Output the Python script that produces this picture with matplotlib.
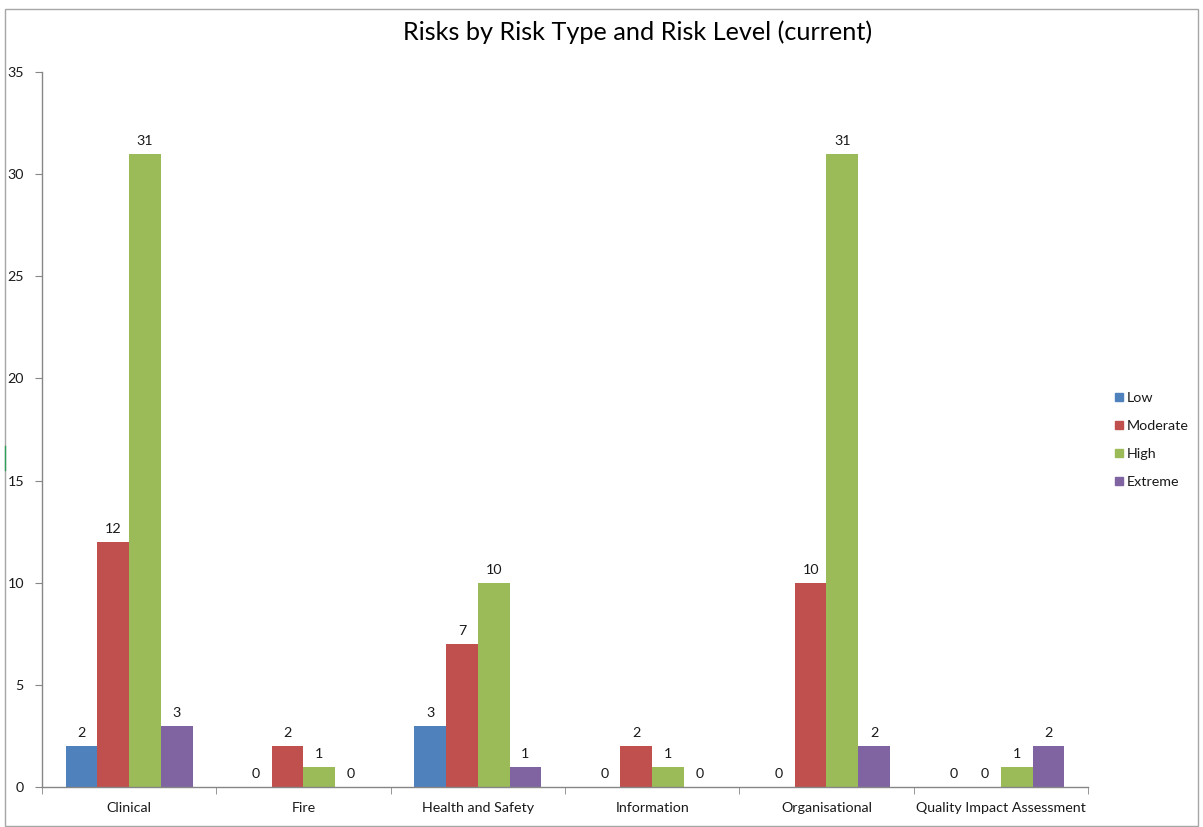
import matplotlib
matplotlib.use("Agg")
import matplotlib.pyplot as plt
import numpy as np
from matplotlib.lines import Line2D
from matplotlib.patches import Rectangle

categories = ["Clinical", "Fire", "Health and Safety", "Information",
              "Organisational", "Quality Impact Assessment"]
series_names = ["Low", "Moderate", "High", "Extreme"]
low = [2, 0, 3, 0, 0, 0]
moderate = [12, 2, 7, 2, 10, 0]
high = [31, 1, 10, 1, 31, 1]
extreme = [3, 0, 1, 0, 2, 2]
colors = ["#4F81BD", "#C0504D", "#9BBB59", "#8064A2"]
y_ticks = [0, 5, 10, 15, 20, 25, 30, 35]
title = "Risks by Risk Type and Risk Level (current)"

plt.rcParams['font.family'] = ['Lato', 'DejaVu Sans']

W, H = 1203, 827
fig = plt.figure(figsize=(W / 100, H / 100), dpi=100)
ax = fig.add_axes([42 / W, 1 - 787 / H, (1088 - 42) / W, (787 - 72) / H])

axis_col = "#868686"
text_col = "#1a1a1a"
fs = 10.3

x = np.arange(len(categories))
n = len(series_names)
bar_w = 1 / (n + 1.5)
for i, (name, vals) in enumerate(zip(series_names, [low, moderate, high, extreme])):
    offs = (i - (n - 1) / 2) * bar_w
    bars = ax.bar(x + offs, vals, width=bar_w, color=colors[i], label=name,
                  linewidth=0)
    for b, v in zip(bars, vals):
        ax.annotate(str(v), (b.get_x() + b.get_width() / 2, b.get_height()),
                    xytext=(0, 5), textcoords="offset points",
                    ha="center", va="bottom", fontsize=fs, color=text_col)

ax.set_xlim(-0.5, len(categories) - 0.5)
ax.set_ylim(0, 35)
ax.set_yticks(y_ticks)
ax.set_xticks(x)
ax.set_xticklabels(categories)
ax.set_xticks(np.arange(-0.5, len(categories), 1.0), minor=True)
ax.tick_params(axis="x", which="major", length=0, pad=11, labelsize=fs,
               labelcolor=text_col)
ax.tick_params(axis="x", which="minor", length=5, color=axis_col, direction="out")
ax.tick_params(axis="y", length=5, color=axis_col, direction="out", pad=8,
               labelsize=fs, labelcolor=text_col)
for s in ["top", "right"]:
    ax.spines[s].set_visible(False)
for s in ["left", "bottom"]:
    ax.spines[s].set_color(axis_col)
    ax.spines[s].set_linewidth(1)

fig.text(638 / W, 1 - 32 / H, title, ha="center", va="center", fontsize=18.2,
         color="#000000")

handles = [Rectangle((0, 0), 1, 1, color=c) for c in colors]
leg = fig.legend(handles, series_names, loc="center left",
                 bbox_to_anchor=(1108 / W, 1 - 440 / H), frameon=False,
                 fontsize=fs, handlelength=0.55, handleheight=0.55,
                 handletextpad=0.25, labelspacing=1.12, borderpad=0)
for t in leg.get_texts():
    t.set_color(text_col)

# chart frame
fig.add_artist(Rectangle((4.5 / W, 1 - 825.5 / H), (1198 - 4.5) / W, (825.5 - 8.5) / H,
                         transform=fig.transFigure, fill=False,
                         edgecolor="#a6a6a6", linewidth=1))
fig.add_artist(Line2D([4.5 / W, 4.5 / W], [1 - 470 / H, 1 - 446 / H],
                      transform=fig.transFigure, color="#2e9e5b", linewidth=1))

fig.savefig("out.png", dpi=100)
